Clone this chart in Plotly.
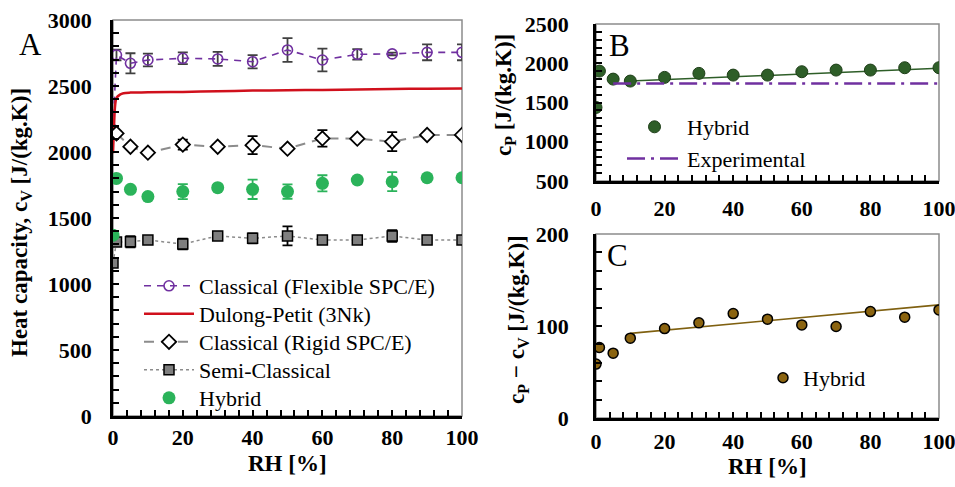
import plotly.graph_objects as go

# ---------------- data ----------------
rh_flex = [0, 1, 5, 10, 20, 30, 40, 50, 60, 70, 80, 90, 100]
cv_flex = [2170, 2735, 2672, 2697, 2710, 2705, 2684, 2773, 2697, 2740, 2743, 2755, 2755]
err_flex = [0, 40, 76, 48, 44, 53, 50, 90, 86, 40, 10, 60, 60]

rh_dp = [0, 0.3, 0.6, 1, 2, 3, 5, 10, 20, 30, 40, 50, 60, 70, 80, 90, 100]
cv_dp = [1990, 2200, 2350, 2410, 2435, 2445, 2450, 2452, 2455, 2460, 2465, 2468, 2470, 2474, 2478, 2480, 2482]

rh_rig = [1, 5, 10, 20, 30, 40, 50, 60, 70, 80, 90, 100]
cv_rig = [2141, 2040, 1995, 2056, 2040, 2052, 2025, 2103, 2101, 2078, 2129, 2129]
err_rig = [15, 10, 10, 38, 15, 68, 10, 63, 10, 72, 10, 10]

rh_semi = [0, 1, 5, 10, 20, 30, 40, 50, 60, 70, 80, 90, 100]
cv_semi = [1160, 1318, 1320, 1333, 1303, 1364, 1346, 1364, 1333, 1333, 1364, 1333, 1333]
err_semi = [0, 15, 42, 15, 40, 15, 38, 72, 20, 20, 44, 15, 15]

rh_hyb = [0, 1, 5, 10, 20, 30, 40, 50, 60, 70, 80, 90, 100]
cv_hyb = [1370, 1800, 1717, 1662, 1700, 1730, 1717, 1700, 1763, 1788, 1775, 1805, 1805]
err_hyb = [0, 20, 20, 20, 57, 20, 73, 54, 61, 20, 72, 20, 20]

rh_b = [0, 1, 5, 10, 20, 30, 40, 50, 60, 70, 80, 90, 100]
cp_hyb = [1437, 1900, 1798, 1773, 1820, 1871, 1849, 1849, 1892, 1913, 1913, 1943, 1943]
rh_fit_b = [10, 100]
cp_fit_b = [1773, 1935]
rh_exp = [5, 100]
cp_exp = [1743, 1743]

rh_c = [0, 1, 5, 10, 20, 30, 40, 50, 60, 70, 80, 90, 100]
dcp = [58.6, 76.6, 70.5, 86.8, 97.2, 103.4, 113.5, 107.4, 101.2, 99.4, 115.7, 109.6, 117.5]
rh_fit_c = [10, 100]
dcp_fit = [92, 123]

FONT = "Liberation Serif"
W, H = 955, 487

def px_x(p):
    return p / W

def px_y(p):
    return 1 - p / H

fig = go.Figure()

# ---------- Panel A ----------
fig.add_trace(go.Scatter(
    x=rh_flex, y=cv_flex, mode="lines+markers", name="Classical (Flexible SPC/E)",
    line=dict(color="#7030A0", width=1.6, dash="7px,6px"),
    marker=dict(symbol="circle-open", size=10, color="#7030A0", line=dict(width=1.6)),
    error_y=dict(type="data", array=err_flex, color="#404040", thickness=1.8, width=5),
    xaxis="x", yaxis="y", legend="legend"))
fig.add_trace(go.Scatter(
    x=rh_dp, y=cv_dp, mode="lines", name="Dulong-Petit (3Nk)",
    line=dict(color="#D0101C", width=2.5, shape="spline"),
    xaxis="x", yaxis="y", legend="legend4"))
fig.add_trace(go.Scatter(
    x=rh_rig, y=cv_rig, mode="lines+markers", name="Classical (Rigid SPC/E)",
    line=dict(color="#8C8C8C", width=2, dash="10px,7px"),
    marker=dict(symbol="diamond", size=11, color="white", line=dict(width=1.8, color="black")),
    error_y=dict(type="data", array=err_rig, color="black", thickness=1.8, width=5),
    xaxis="x", yaxis="y", legend="legend5"))
fig.add_trace(go.Scatter(
    x=rh_semi, y=cv_semi, mode="lines+markers", name="Semi-Classical",
    line=dict(color="#8C8C8C", width=1.5, dash="dot"),
    marker=dict(symbol="square", size=10, color="#7F7F7F", line=dict(width=1.5, color="black")),
    error_y=dict(type="data", array=err_semi, color="black", thickness=1.8, width=5),
    xaxis="x", yaxis="y", legend="legend6"))
fig.add_trace(go.Scatter(
    x=rh_hyb, y=cv_hyb, mode="markers", name="Hybrid",
    marker=dict(symbol="circle", size=13, color="#2BB35A"),
    error_y=dict(type="data", array=err_hyb, color="#2BB35A", thickness=1.8, width=5),
    xaxis="x", yaxis="y", legend="legend7"))

# ---------- Panel B ----------
fig.add_trace(go.Scatter(
    x=rh_fit_b, y=cp_fit_b, mode="lines", showlegend=False,
    line=dict(color="#2E5E28", width=1.5), xaxis="x2", yaxis="y2"))
fig.add_trace(go.Scatter(
    x=rh_b, y=cp_hyb, mode="markers", name="Hybrid",
    marker=dict(symbol="circle", size=12, color="#2E5E28", line=dict(width=1, color="#1E3E18")),
    xaxis="x2", yaxis="y2", legend="legend2"))
fig.add_trace(go.Scatter(
    x=rh_exp, y=cp_exp, mode="lines", name="Experimental",
    line=dict(color="#7030A0", width=2.5, dash="18px,6px,3px,6px"),
    xaxis="x2", yaxis="y2", legend="legend2"))

# ---------- Panel C ----------
fig.add_trace(go.Scatter(
    x=rh_fit_c, y=dcp_fit, mode="lines", showlegend=False,
    line=dict(color="#7F6010", width=1.6), xaxis="x3", yaxis="y3"))
fig.add_trace(go.Scatter(
    x=rh_c, y=dcp, mode="markers", name="Hybrid",
    marker=dict(symbol="circle", size=10, color="#8B6410", line=dict(width=1.5, color="black")),
    xaxis="x3", yaxis="y3", legend="legend3"))

tickfont = dict(family=FONT, size=22, color="black", weight="bold")

def xax(domain, anchor, minor_dtick, standoff):
    return dict(domain=domain, anchor=anchor, range=[0, 100], dtick=20, tick0=0,
                ticks="inside", ticklen=6, tickwidth=1.5, tickcolor="black",
                minor=dict(dtick=minor_dtick, tick0=0, ticks="inside", ticklen=6, tickwidth=1.5, tickcolor="black"),
                showline=True, linecolor="black", linewidth=2.5, showgrid=False, zeroline=False,
                tickfont=tickfont, ticklabelstandoff=standoff, ticklabeloverflow="allow", automargin=False)

def yax(domain, anchor, rng, dtick, minor_dtick, standoff):
    return dict(domain=domain, anchor=anchor, range=rng, dtick=dtick, tick0=0,
                ticks="inside", ticklen=6, tickwidth=1.5, tickcolor="black",
                minor=dict(dtick=minor_dtick, tick0=0, ticks="inside", ticklen=6, tickwidth=1.5, tickcolor="black"),
                showline=True, linecolor="black", linewidth=2.5, showgrid=False, zeroline=False,
                tickfont=tickfont, ticklabelstandoff=standoff, ticklabeloverflow="allow", automargin=False)

xA = [px_x(113), px_x(462)]
yA = [px_y(416), px_y(20)]
xB = [px_x(596), px_x(939)]
yB = [px_y(181), px_y(24)]
yC = [px_y(418), px_y(234)]

legfont = dict(family=FONT, size=22, color="black")

def legA(row_y):
    return dict(x=px_x(139), y=px_y(row_y), xanchor="left", yanchor="middle", font=legfont,
                bgcolor="rgba(0,0,0,0)", itemwidth=50)

fig.update_layout(
    width=W, height=H, margin=dict(l=0, r=0, t=0, b=0),
    paper_bgcolor="white", plot_bgcolor="white",
    xaxis=xax(xA, "y", 4, 0),
    yaxis=yax(yA, "x", [0, 3000], 500, 100, 14),
    xaxis2=xax(xB, "y2", 4, 6),
    yaxis2=yax(yB, "x2", [500, 2500], 500, 100, 20),
    xaxis3=xax(xB, "y3", 4, 2),
    yaxis3=yax(yC, "x3", [0, 200], 100, 20, 20),
    legend=legA(286),
    legend4=legA(314),
    legend5=legA(342),
    legend6=legA(370),
    legend7=legA(398),
    legend2=dict(x=px_x(622), y=px_y(106), xanchor="left", yanchor="top", font=legfont,
                 bgcolor="rgba(0,0,0,0)", itemwidth=55),
    legend3=dict(x=px_x(763), y=px_y(357), xanchor="left", yanchor="top", font=legfont,
                 bgcolor="rgba(0,0,0,0)", itemwidth=30),
    showlegend=True,
)

# gray frames (top/right borders)
for xd, yd in [(xA, yA), (xB, yB), (xB, yC)]:
    fig.add_shape(type="rect", xref="paper", yref="paper", x0=xd[0], x1=xd[1], y0=yd[0], y1=yd[1],
                  line=dict(color="#8C8C8C", width=1.5), layer="below")

titlefont = dict(family=FONT, size=23, color="black", weight="bold")
ann = [
    dict(text="Heat capacity, c<sub>V</sub> [J/(kg.K)]", x=px_x(21), y=px_y(223), textangle=-90),
    dict(text="c<sub>P</sub> [J/(kg.K)]", x=px_x(505), y=px_y(95), textangle=-90),
    dict(text="c<sub>P</sub> − c<sub>V</sub> [J/(kg.K)]", x=px_x(518), y=px_y(320), textangle=-90),
    dict(text="RH [%]", x=px_x(287), y=px_y(463), textangle=0),
    dict(text="RH [%]", x=px_x(767), y=px_y(466), textangle=0),
]
for a in ann:
    fig.add_annotation(xref="paper", yref="paper", xanchor="center", yanchor="middle",
                       showarrow=False, font=titlefont, **a)

letters = [("A", 30, 44), ("B", 619, 46), ("C", 617, 255)]
for t, lx, ly in letters:
    fig.add_annotation(text=t, xref="paper", yref="paper", x=px_x(lx), y=px_y(ly),
                       xanchor="center", yanchor="middle", showarrow=False,
                       font=dict(family=FONT, size=31, color="black"))

fig.write_html("out.html", config={"displayModeBar": False},
               post_script="document.body.style.margin='0';document.body.style.padding='0';")
